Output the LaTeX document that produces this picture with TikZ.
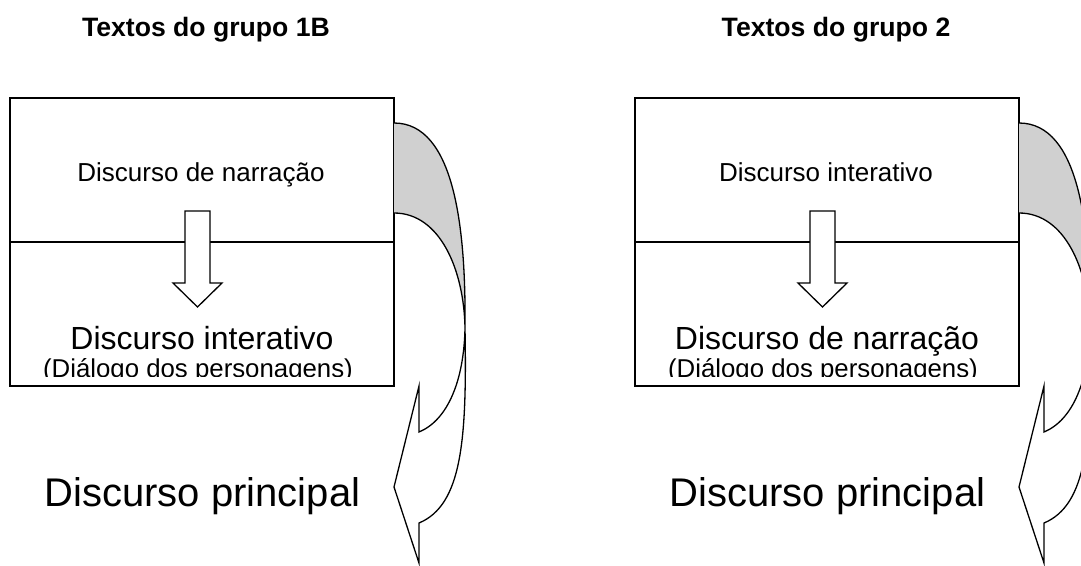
\documentclass[tikz,border=0pt]{standalone}
\usepackage{fontspec}
\setmainfont{Liberation Sans}
\definecolor{bandgray}{RGB}{208,208,208}
\tikzset{
  boxline/.style={draw=black, line width=1.3pt},
  curveline/.style={draw=black, line width=1.3pt, line join=miter},
  titletext/.style={anchor=base, inner sep=0pt, font=\fontsize{26.6}{32}\selectfont\bfseries},
  midtext/.style={anchor=base, inner sep=0pt, font=\fontsize{26}{31}\selectfont},
  subtext/.style={anchor=base, inner sep=0pt, font=\fontsize{25.8}{31}\selectfont},
  bigtext/.style={anchor=base, inner sep=0pt, font=\fontsize{32}{38}\selectfont},
  hugetext/.style={anchor=base, inner sep=0pt, font=\fontsize{40}{48}\selectfont},
}
\newcommand\drawpanel[6]{%
\begin{scope}[shift={(#2,0)}]
  \node[titletext] (#1title) at (#3,36) {#4};
  \node[draw, boxline, minimum width=384pt, minimum height=144pt, inner sep=0pt] (#1top) at (202,170) {};
  \node[draw, boxline, minimum width=384pt, minimum height=144pt, inner sep=0pt] (#1bot) at (202,314) {};
  \node[midtext] (#1up) at (201,181) {#5};
  \begin{scope}
    \clip (10,98) rectangle (394,376);
    \node[bigtext] (#1low) at (202,349) {#6};
    \node[subtext] (#1sub) at (198,377) {(Diálogo dos personagens)};
  \end{scope}
  \draw[boxline, fill=white, line join=miter] (185,211) -- (210,211) -- (210,283) -- (222,283) -- (197.5,307) -- (173,283) -- (185,283) -- cycle;
  \coordinate (#1a) at (394,123);
  \coordinate (#1b) at (394,213);
  \coordinate (#1m) at (465,328);
  \fill[bandgray] (#1a) .. controls (455,123) and (466,230) .. (#1m)
     .. controls (464,270) and (440,213) .. (#1b) -- cycle;
  \draw[curveline] (#1a) .. controls (455,123) and (466,230) .. (#1m)
     .. controls (467,440) and (462,505) .. (419,523)
     -- (419,563) -- (394,487) -- (419,386) -- (419,432)
     .. controls (448,420) and (464,380) .. (#1m)
     .. controls (464,270) and (440,213) .. (#1b);
  \node[hugetext] (#1main) at (202.5,506) {Discurso principal};
\end{scope}}
\begin{document}
\begin{tikzpicture}[x=1pt, y=-1pt]
  \useasboundingbox (0,0) rectangle (1081,565);
  \clip (0,0) rectangle (1081,565);
  \drawpanel{l}{0}{206}{Textos do grupo 1B}{Discurso de narração}{Discurso interativo}
  \drawpanel{r}{625}{211}{Textos do grupo 2}{Discurso interativo}{Discurso de narração}
\end{tikzpicture}
\end{document}
